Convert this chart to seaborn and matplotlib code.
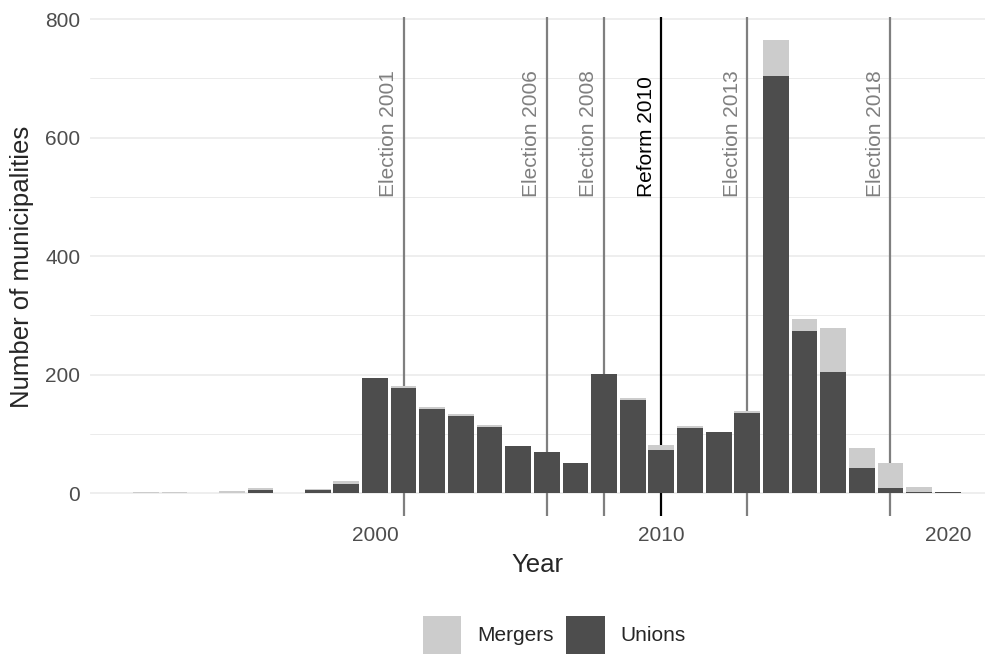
import matplotlib
matplotlib.use("Agg")
import matplotlib.pyplot as plt
from matplotlib.patches import Patch
from matplotlib.ticker import MultipleLocator
import seaborn as sns
import pandas as pd

years = [1992, 1993, 1995, 1996, 1998, 1999, 2000, 2001, 2002, 2003, 2004, 2005,
         2006, 2007, 2008, 2009, 2010, 2011, 2012, 2013, 2014, 2015, 2016, 2017,
         2018, 2019, 2020]
unions = [0, 0, 0, 6, 5, 16, 194, 178, 142, 130, 112, 80,
          70, 51, 201, 157, 73, 110, 103, 135, 704, 274, 205, 43,
          9, 2, 3]
mergers = [2, 2, 4, 3, 2, 5, 0, 3, 4, 4, 3, 0,
           0, 0, 0, 4, 9, 4, 0, 4, 61, 20, 74, 33,
           42, 9, 0]

event_years = [2001, 2006, 2008, 2010, 2013, 2018]
event_labels = ["Election 2001", "Election 2006", "Election 2008", "Reform 2010",
                "Election 2013", "Election 2018"]

df = pd.concat([
    pd.DataFrame({"year": years, "count": mergers, "type": "Mergers"}),
    pd.DataFrame({"year": years, "count": unions, "type": "Unions"}),
])

sns.set_style("white")
plt.rcParams["font.family"] = ["Liberation Sans", "DejaVu Sans"]

colors = {"Mergers": "#cccccc", "Unions": "#4d4d4d"}

fig = plt.figure(figsize=(9.92, 6.54), dpi=100)
ax = fig.add_axes([90 / 992, 1 - 516 / 654, (985 - 90) / 992, (516 - 17) / 654])

# event lines sit behind the bars, labels on top
for yr, lab in zip(event_years, event_labels):
    c = "black" if lab.startswith("Reform") else "#7f7f7f"
    ax.axvline(yr, color=c, lw=1.6, zorder=1)
    ax.text(yr - 0.2, 500, lab, rotation=90, ha="right", va="bottom",
            color=c, fontsize=15, zorder=4)

sns.histplot(data=df, x="year", weights="count", hue="type",
             hue_order=["Mergers", "Unions"], multiple="stack", discrete=True,
             shrink=0.9, palette=colors, alpha=1, linewidth=0, legend=False,
             ax=ax, zorder=2)

ax.set_xlim(1990.05, 2021.3)
ax.set_ylim(-38.3, 803.5)
ax.set_xticks([2000, 2010, 2020])
ax.yaxis.set_major_locator(MultipleLocator(200))
ax.yaxis.set_minor_locator(MultipleLocator(100))
ax.grid(axis="y", which="major", color="#ebebeb", lw=1.2, zorder=0)
ax.grid(axis="y", which="minor", color="#ebebeb", lw=0.7, zorder=0)
ax.set_axisbelow(True)
for s in ax.spines.values():
    s.set_visible(False)
ax.tick_params(axis="both", which="both", length=0, labelsize=15,
               labelcolor="#4d4d4d", pad=7)
ax.set_xlabel("Year", fontsize=18.5, labelpad=6)
ax.set_ylabel("Number of municipalities", fontsize=18.5, labelpad=8)

handles = [Patch(facecolor=colors[k], edgecolor="none", label=k)
           for k in ["Mergers", "Unions"]]
fig.legend(handles=handles, loc="lower center", bbox_to_anchor=(0.559, 0.0),
           ncol=2, frameon=False, fontsize=15, handlelength=1.83,
           handleheight=2.43, columnspacing=0.6, handletextpad=0.77,
           borderpad=0.0, borderaxespad=0.0)

fig.savefig("out.png", dpi=100)
